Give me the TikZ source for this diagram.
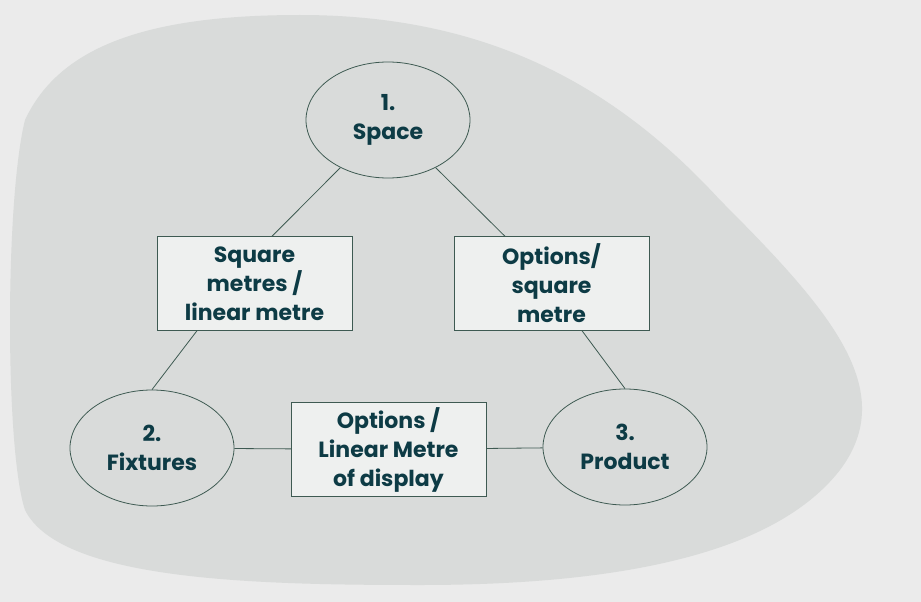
\documentclass[tikz,border=0pt]{standalone}
\usepackage{fontspec}
\usetikzlibrary{shapes.geometric}
\setmainfont{Poppins}
\definecolor{bg}{HTML}{EBEBEB}
\definecolor{blob}{HTML}{D9DBDA}
\definecolor{boxf}{HTML}{EEF0EF}
\definecolor{txt}{HTML}{0D3B45}
\definecolor{ln}{HTML}{3E5A52}
\begin{document}
\begin{tikzpicture}[x=1pt,y=-1pt,
  ell/.style={draw=ln,thick,fill=blob,ellipse,minimum width=164pt,minimum height=116pt,text=txt,font=\bfseries\fontsize{22}{29}\selectfont,align=center,inner sep=0pt},
  bx/.style={draw=ln,fill=boxf,minimum width=195pt,minimum height=94pt,text=txt,font=\bfseries\fontsize{22}{29}\selectfont,align=center,inner sep=0pt},
  conn/.style={draw=ln,thick}]
\useasboundingbox (0,0) rectangle (921,602);
\fill[bg] (0,0) rectangle (921,602);
\fill[blob] (25,120) .. controls (60,45) and (150,15) .. (300,15)
  .. controls (480,15) and (610,80) .. (720,200)
  .. controls (830,310) and (900,390) .. (840,470)
  .. controls (770,560) and (600,585) .. (420,585)
  .. controls (250,585) and (60,580) .. (25,510)
  .. controls (5,450) and (5,200) .. (25,120) -- cycle;
\node[ell] (space) at (388,120) {1.\\Space};
\node[ell] (fix) at (152,448) {2.\\Fixtures};
\node[ell] (prod) at (625,447) {3.\\Product};
\node[bx] (b1) at (254.5,283.5) {Square\\metres /\\linear metre};
\node[bx] (b2) at (551.5,283.5) {Options/\\square\\metre};
\node[bx] (b3) at (388.5,449.5) {Options /\\Linear Metre\\of display};
\draw[conn] (space.225) -- (b1.north -| 272,0);
\draw[conn] (space.315) -- (b2.north -| 505,0);
\draw[conn] (b1.south -| 197,0) -- (fix.90);
\draw[conn] (b2.south -| 582,0) -- (prod.90);
\draw[conn] (fix) -- (b3);
\draw[conn] (b3) -- (prod);
\end{tikzpicture}
\end{document}
